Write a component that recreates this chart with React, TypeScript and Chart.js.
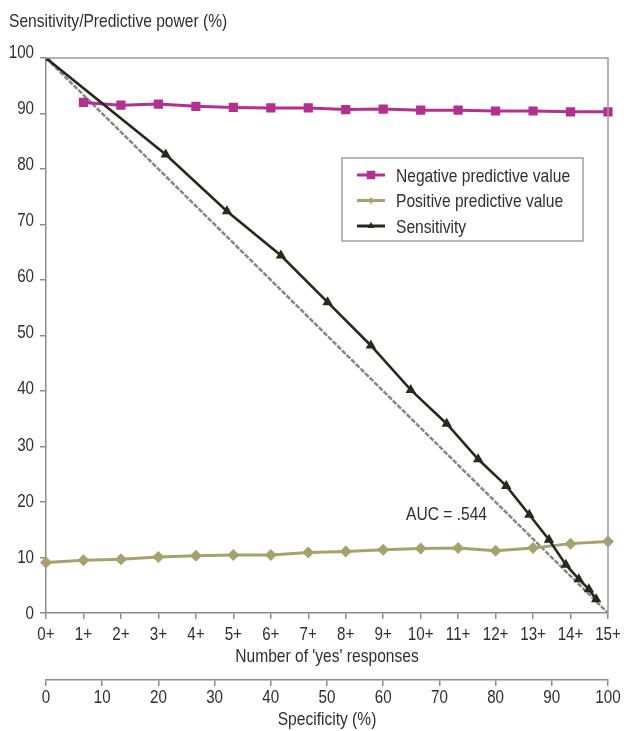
import React, { useEffect, useRef } from 'react';
import { Chart, registerables } from 'chart.js';

Chart.register(...registerables);

// ---- data ----
const yesLabels = ['0+', '1+', '2+', '3+', '4+', '5+', '6+', '7+', '8+', '9+', '10+', '11+', '12+', '13+', '14+', '15+'];
const npvValues = [null, 92.0, 91.5, 91.7, 91.3, 91.1, 91.0, 91.0, 90.7, 90.8, 90.6, 90.6, 90.45, 90.45, 90.3, 90.3];
const ppvValues = [9.1, 9.5, 9.7, 10.1, 10.3, 10.45, 10.45, 10.9, 11.1, 11.4, 11.6, 11.7, 11.2, 11.7, 12.5, 12.9];
const specificityValues = [0, 21.3, 32.2, 41.8, 50.1, 57.8, 64.9, 71.3, 76.9, 81.9, 86.0, 89.5, 92.5, 94.8, 96.6, 97.9];
const sensitivityValues = [100, 82.6, 72.4, 64.4, 56.0, 48.2, 40.2, 34.1, 27.7, 22.9, 17.7, 13.2, 8.7, 6.1, 4.3, 2.5];
const diagonalX = [0, 100];
const diagonalY = [100, 0];
const seriesNames = ['Negative predictive value', 'Positive predictive value', 'Sensitivity'];
const yAxisTitle = 'Sensitivity/Predictive power (%)';
const xAxisTitle = "Number of 'yes' responses";
const x2AxisTitle = 'Specificity (%)';
const aucText = 'AUC = .544';

// ---- styles ----
const FONT = "'Liberation Sans', Arial, sans-serif";
const NARROW = 0.82;
const TEXT = '#2f2f2f';
const AXIS = '#8c8c8c';
const NPV_COLOR = '#b3308f';
const PPV_COLOR = '#a4a36c';
const SENS_COLOR = '#2a271e';
const DIAG_COLOR = '#868686';

function narrowText(ctx: CanvasRenderingContext2D, text: string, x: number, y: number, align: CanvasTextAlign, size: number) {
  ctx.save();
  ctx.font = `${size}px ${FONT}`;
  ctx.fillStyle = TEXT;
  ctx.textAlign = align;
  ctx.textBaseline = 'alphabetic';
  ctx.translate(x, y);
  ctx.scale(NARROW, 1);
  ctx.fillText(text, 0, 0);
  ctx.restore();
}

function drawMarker(ctx: CanvasRenderingContext2D, style: string, x: number, y: number, r: number, color: string) {
  ctx.save();
  ctx.fillStyle = color;
  ctx.beginPath();
  if (style === 'rect') {
    const s = r * Math.SQRT1_2;
    ctx.rect(x - s, y - s, 2 * s, 2 * s);
  } else if (style === 'rectRot') {
    ctx.moveTo(x, y - r);
    ctx.lineTo(x + r * 0.8, y);
    ctx.lineTo(x, y + r);
    ctx.lineTo(x - r * 0.8, y);
    ctx.closePath();
  } else {
    ctx.moveTo(x, y - r);
    ctx.lineTo(x + r * 0.866, y + r * 0.5);
    ctx.lineTo(x - r * 0.866, y + r * 0.5);
    ctx.closePath();
  }
  ctx.fill();
  ctx.restore();
}

export default function App() {
  const ref = useRef<HTMLCanvasElement>(null);

  useEffect(() => {
    const canvas = ref.current;
    if (!canvas) return;

    const overlay = {
      id: 'overlay',
      afterDraw(chart: any) {
        const ctx: CanvasRenderingContext2D = chart.ctx;
        const a = chart.chartArea;
        const sx = chart.scales.x;
        const sx2 = chart.scales.x2;
        const sy = chart.scales.y;
        const midX = (a.left + a.right) / 2;
        ctx.save();
        // top & right frame
        ctx.strokeStyle = '#9a9a9a';
        ctx.lineWidth = 1.5;
        ctx.beginPath();
        ctx.moveTo(a.left, a.top);
        ctx.lineTo(a.right, a.top);
        ctx.lineTo(a.right, a.bottom);
        ctx.stroke();
        ctx.restore();

        // y tick labels
        for (const t of sy.ticks) {
          const py = sy.getPixelForValue(t.value) - 0.8 - 0.058 * t.value;
          narrowText(ctx, String(t.value), 34, py + 6.6, 'right', 18.5);
        }
        // category tick labels
        sx.ticks.forEach((t: any, i: number) => {
          narrowText(ctx, yesLabels[t.value ?? i], sx.getPixelForTick(i), 640, 'center', 18.5);
        });
        // specificity tick labels
        for (const t of sx2.ticks) {
          narrowText(ctx, String(t.value), sx2.getPixelForValue(t.value), 703, 'center', 18.5);
        }
        // titles
        narrowText(ctx, yAxisTitle, 9, 27, 'left', 19);
        narrowText(ctx, xAxisTitle, midX, 662, 'center', 19);
        narrowText(ctx, x2AxisTitle, midX, 725, 'center', 19);
        narrowText(ctx, aucText, 406, 520, 'left', 19);

        // legend
        ctx.save();
        const lx = 342, ly = 158, lw = 241, lh = 83;
        ctx.fillStyle = '#ffffff';
        ctx.fillRect(lx, ly, lw, lh);
        ctx.strokeStyle = '#a0a0a0';
        ctx.lineWidth = 1.5;
        ctx.strokeRect(lx, ly, lw, lh);
        const rows = [
          { name: seriesNames[0], color: NPV_COLOR, style: 'rect', r: 6, lineY: 175, textY: 182 },
          { name: seriesNames[1], color: PPV_COLOR, style: 'rectRot', r: 3.5, lineY: 200.5, textY: 207 },
          { name: seriesNames[2], color: SENS_COLOR, style: 'triangle', r: 4, lineY: 226, textY: 232.5 },
        ];
        for (const row of rows) {
          ctx.strokeStyle = row.color;
          ctx.lineWidth = 3;
          ctx.beginPath();
          ctx.moveTo(357, row.lineY);
          ctx.lineTo(385, row.lineY);
          ctx.stroke();
          drawMarker(ctx, row.style, 371, row.lineY, row.r, row.color);
          narrowText(ctx, row.name, 396, row.textY, 'left', 19);
        }
        ctx.restore();
      },
    };

    const tickFont = { family: FONT, size: 18 };
    const hiddenTicks = { color: 'rgba(0,0,0,0)', font: tickFont, autoSkip: false, maxRotation: 0, padding: 3 };

    const chart = new Chart(canvas, {
      type: 'line',
      data: {
        labels: yesLabels,
        datasets: [
          {
            label: seriesNames[2],
            data: specificityValues.map((s, i) => ({ x: s, y: sensitivityValues[i] })),
            xAxisID: 'x2',
            yAxisID: 'y',
            borderColor: SENS_COLOR,
            backgroundColor: SENS_COLOR,
            borderWidth: 2.6,
            pointStyle: 'triangle',
            pointRadius: 6,
            pointBorderWidth: 0,
            tension: 0,
          },
          {
            label: seriesNames[0],
            data: npvValues as any,
            xAxisID: 'x',
            yAxisID: 'y',
            borderColor: NPV_COLOR,
            backgroundColor: NPV_COLOR,
            borderWidth: 3,
            pointStyle: 'rect',
            pointRadius: 6.5,
            pointBorderWidth: 0,
            tension: 0,
          },
          {
            label: seriesNames[1],
            data: ppvValues,
            xAxisID: 'x',
            yAxisID: 'y',
            borderColor: PPV_COLOR,
            backgroundColor: PPV_COLOR,
            borderWidth: 3,
            pointStyle: 'rectRot',
            pointRadius: 6,
            pointBorderWidth: 0,
            tension: 0,
          },
          {
            label: 'diagonal',
            data: diagonalX.map((x, i) => ({ x, y: diagonalY[i] })),
            xAxisID: 'x2',
            yAxisID: 'y',
            borderColor: DIAG_COLOR,
            borderWidth: 2.5,
            borderDash: [5, 1.5],
            pointRadius: 0,
            tension: 0,
          },
        ] as any,
      },
      options: {
        responsive: false,
        animation: false,
        layout: { padding: { left: 0, right: 20, top: 58, bottom: 1 } },
        plugins: {
          legend: { display: false },
          tooltip: { enabled: false },
          title: { display: false },
        },
        scales: {
          x: {
            type: 'category',
            position: 'bottom',
            weight: 0,
            offset: false,
            afterFit: (s: any) => { s.height = 67; },
            grid: { display: true, drawOnChartArea: false, drawTicks: true, tickLength: 6, color: AXIS, lineWidth: 1.5 },
            border: { display: true, color: AXIS, width: 1.5 },
            ticks: hiddenTicks,
          },
          x2: {
            type: 'linear',
            position: 'bottom',
            weight: 1,
            min: 0,
            max: 100,
            afterFit: (s: any) => { s.height = 50; },
            grid: { display: true, drawOnChartArea: false, drawTicks: true, tickLength: 6, color: AXIS, lineWidth: 1.5 },
            border: { display: true, color: AXIS, width: 1.5 },
            ticks: { ...hiddenTicks, stepSize: 10 },
          },
          y: {
            type: 'linear',
            position: 'left',
            min: 0,
            max: 100,
            afterFit: (s: any) => { s.width = 46; },
            grid: { display: true, drawOnChartArea: false, drawTicks: true, tickLength: 6, color: AXIS, lineWidth: 1.5 },
            border: { display: true, color: AXIS, width: 1.5 },
            ticks: { ...hiddenTicks, stepSize: 10, padding: 6 },
          },
        },
      } as any,
      plugins: [overlay],
    });

    return () => chart.destroy();
  }, []);

  return (
    <div style={{ position: 'absolute', left: 0, top: 0, width: 628, height: 731 }}>
      <canvas ref={ref} width={628} height={731} style={{ display: 'block', width: 628, height: 731 }} />
    </div>
  );
}
